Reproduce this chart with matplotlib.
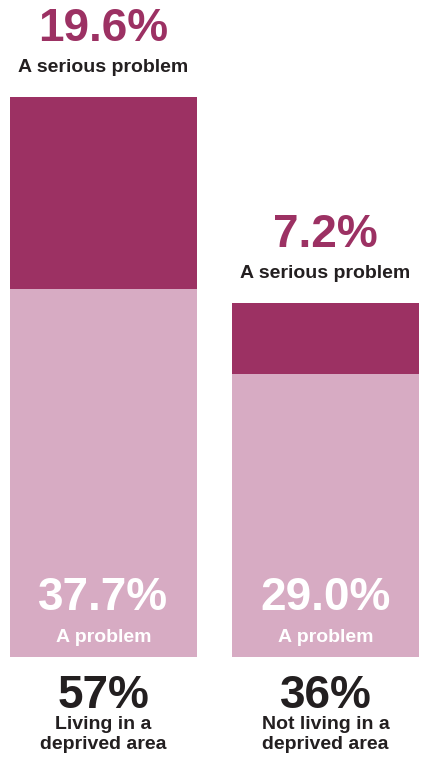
import matplotlib
matplotlib.use("Agg")
import matplotlib.pyplot as plt

# Share of people describing the issue as a problem, by area type
groups = ["Living in a\ndeprived area", "Not living in a\ndeprived area"]
problem = [37.7, 29.0]
serious = [19.6, 7.2]
totals = [57, 36]

DARK = "#9c3163"
LIGHT = "#d7abc3"
INK = "#231f20"

plt.rcParams["font.family"] = ["Liberation Sans", "DejaVu Sans"]
plt.rcParams["font.weight"] = "bold"

fig = plt.figure(figsize=(4.28, 7.58), dpi=100)
ax = fig.add_axes([0, 101 / 758, 1, 657 / 758])
ax.set_xlim(-103.5 / 222, (428 - 103.5) / 222)
ax.set_ylim(0, 657 / 9.77)
ax.axis("off")

xs = list(range(len(groups)))
width = 187 / 222
ax.bar(xs, problem, width=width, color=LIGHT, linewidth=0)
ax.bar(xs, serious, width=width, bottom=problem, color=DARK, linewidth=0)

PX = 72 / 100  # points per pixel at 100 dpi
BIG = 33
SMALL = 14

for x, p, s, t, g in zip(xs, problem, serious, totals, groups):
    top = p + s
    # value labels above the stacked bar
    ax.annotate(f"{s:.1f}%", (x, top), xytext=(0, 56 * PX), textcoords="offset points",
                ha="center", va="baseline", fontsize=BIG, color=DARK, fontweight="bold")
    ax.annotate("A serious problem", (x, top), xytext=(0, 25 * PX), textcoords="offset points",
                ha="center", va="baseline", fontsize=SMALL, color=INK, fontweight="bold")
    # labels inside the lower segment
    ax.annotate(f"{p:.1f}%", (x, 0), xytext=(0, 47 * PX), textcoords="offset points",
                ha="center", va="baseline", fontsize=BIG, color="white", fontweight="bold")
    ax.annotate("A problem", (x, 0), xytext=(0, 15 * PX), textcoords="offset points",
                ha="center", va="baseline", fontsize=SMALL, color="white", fontweight="bold")
    # group totals and names under the bars
    ax.annotate(f"{t}%", (x, 0), xytext=(0, -51 * PX), textcoords="offset points",
                ha="center", va="baseline", fontsize=BIG, color=INK, fontweight="bold",
                annotation_clip=False)
    ax.annotate(g, (x, 0), xytext=(0, -59 * PX), textcoords="offset points",
                ha="center", va="top", fontsize=SMALL, color=INK, fontweight="bold",
                linespacing=1.25, annotation_clip=False)

fig.savefig("out.png", dpi=100)
